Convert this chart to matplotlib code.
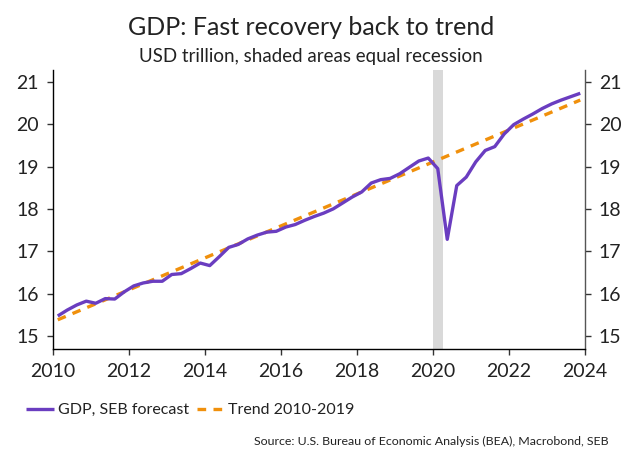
import numpy as np
import matplotlib
matplotlib.use("Agg")
import matplotlib.pyplot as plt

plt.rcParams['font.family'] = ['Lato', 'DejaVu Sans']

# Quarterly real GDP, USD trillion, 2010Q1-2023Q4 (2021Q4 onward: SEB forecast)
quarters = [f"{y}Q{q}" for y in range(2010, 2024) for q in range(1, 5)]
gdp = [
    15.47, 15.61, 15.73, 15.82,
    15.77, 15.88, 15.87, 16.04,
    16.18, 16.25, 16.29, 16.29,
    16.45, 16.47, 16.59, 16.72,
    16.66, 16.87, 17.09, 17.16,
    17.29, 17.38, 17.45, 17.47,
    17.57, 17.63, 17.73, 17.82,
    17.90, 18.00, 18.14, 18.28,
    18.40, 18.61, 18.69, 18.72,
    18.83, 18.98, 19.13, 19.20,
    18.95, 17.28, 18.55, 18.75,
    19.11, 19.38, 19.47, 19.77,
    19.99, 20.12, 20.24, 20.37,
    20.48, 20.57, 20.65, 20.73,
]

# Linear trend fitted on 2010-2019, extended to the end of the forecast
trend_quarters = ["2010Q1", "2023Q4"]
trend_values = [15.38, 20.57]

# Recession periods (start, end) in decimal years
recessions = [(2020.0, 2020.25)]

x_ticks = [2010, 2012, 2014, 2016, 2018, 2020, 2022, 2024]
y_ticks = [15, 16, 17, 18, 19, 20, 21]


def quarter_to_year(label):
    year, q = label.split("Q")
    return int(year) + (int(q) - 1) * 0.25 + 0.125


t = np.array([quarter_to_year(s) for s in quarters])
t_trend = np.array([quarter_to_year(s) for s in trend_quarters])

PURPLE = "#6a3dc0"
ORANGE = "#f0900c"
TEXT = "#222222"

fig = plt.figure(figsize=(6.22, 4.5), dpi=100)
ax = fig.add_axes([53 / 622, 1 - 349 / 450, (585 - 53) / 622, (349 - 70) / 450])

for start, end in recessions:
    ax.axvspan(start, end, color="#d9d9d9", lw=0, zorder=0)

ax.plot(t, gdp, color=PURPLE, lw=2.4, solid_capstyle="butt",
        label="GDP, SEB forecast", zorder=3)
ax.plot(t_trend, trend_values, color=ORANGE, lw=2.4, dashes=(2.6, 2.2),
        label="Trend 2010-2019", zorder=2)

ax.set_xlim(2010, 2024)
ax.set_ylim(14.69, 21.28)
ax.set_xticks(x_ticks)
ax.set_yticks(y_ticks)

ax.spines['top'].set_visible(False)
ax.spines['right'].set_color("#555555")
for side in ('left', 'bottom', 'right'):
    ax.spines[side].set_linewidth(1.0)
ax.tick_params(axis='both', direction='out', length=4, width=1,
               labelsize=14, labelcolor=TEXT, color="#333333")
ax.tick_params(axis='x', pad=6)
ax.tick_params(axis='y', right=True, labelright=True, pad=6)

fig.text(0.5, 1 - 35 / 450, "GDP: Fast recovery back to trend",
         ha="center", va="baseline", fontsize=18, color=TEXT)
fig.text(0.5, 1 - 62 / 450, "USD trillion, shaded areas equal recession",
         ha="center", va="baseline", fontsize=13.5, color=TEXT)

fig.legend(loc="center left", bbox_to_anchor=(12 / 622, 1 - 410 / 450),
           ncol=2, frameon=False, fontsize=11.5, handlelength=1.7,
           handletextpad=0.25, columnspacing=0.5, labelcolor=TEXT)

fig.text(609 / 622, 1 - 441 / 450,
         "Source: U.S. Bureau of Economic Analysis (BEA), Macrobond, SEB",
         ha="right", va="center", fontsize=8.9, color=TEXT)

fig.savefig("out.png", dpi=100)
